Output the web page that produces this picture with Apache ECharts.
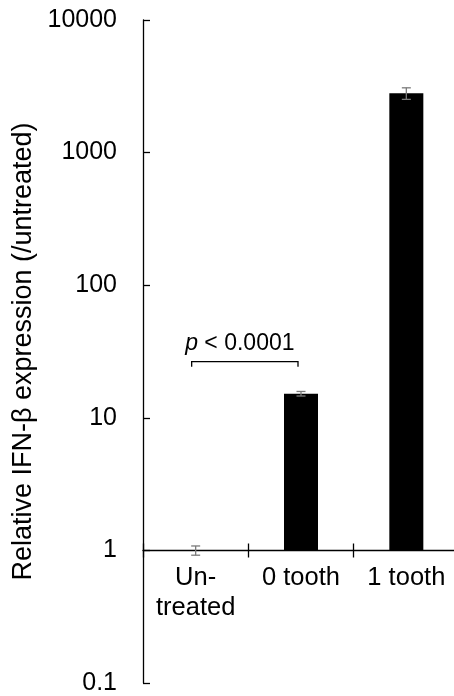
<!DOCTYPE html>
<html>
<head>
<meta charset="utf-8">
<script src="https://cdn.jsdelivr.net/npm/echarts@6/dist/echarts.min.js"></script>
<style>
  html, body { margin: 0; padding: 0; background: #fff; }
  #chart { width: 454px; height: 696px; }
</style>
</head>
<body>
<div id="chart"></div>
<script>
// Relative IFN-beta expression per treatment group (fold over untreated)
const categories = ['Un-\ntreated', '0 tooth', '1 tooth'];
const meanValues = [1, 15.2, 2800];
const errLow = [0.92, 14.6, 2520];
const errHigh = [1.08, 15.8, 3080];
const yTicks = [0.1, 1, 10, 100, 1000, 10000];
// Significance bracket between untreated and 0 tooth
const sigPair = [0, 1];
const sigLevel = 26.5;
const sigText = 'p < 0.0001';

const FONT = 'Liberation Sans, Arial, sans-serif';
const GRID_LEFT = 143;
const GRID_WIDTH = 316;      // last category runs past the right edge
const TOP = 20;
const BOTTOM_FULL = 13;      // grid down to 0.1
const BOTTOM_BASE = 145.5;   // grid down to 1 (baseline)

const chart = echarts.init(document.getElementById('chart'), null, { renderer: 'canvas' });

const gridBox = (top, bottom) => ({
  left: GRID_LEFT, width: GRID_WIDTH, top, bottom,
  containLabel: false, outerBoundsMode: 'none'
});

const hiddenCat = (gridIndex, extra) => Object.assign({
  type: 'category', gridIndex, data: categories,
  axisLine: { show: false }, axisTick: { show: false }, axisLabel: { show: false },
  splitLine: { show: false }
}, extra || {});

const hiddenLog = (gridIndex, min, max) => ({
  type: 'log', logBase: 10, gridIndex, min, max, show: false,
  splitLine: { show: false }
});

const option = {
  animation: false,
  backgroundColor: '#fff',
  grid: [
    gridBox(TOP, BOTTOM_FULL),
    gridBox(TOP, BOTTOM_BASE),
    gridBox(696 - BOTTOM_BASE, BOTTOM_FULL)
  ],
  xAxis: [
    hiddenCat(0),
    {
      type: 'category', gridIndex: 1, data: categories, position: 'bottom',
      axisLine: { show: true, lineStyle: { color: '#000', width: 1.3 } },
      axisTick: { show: true, length: 7, lineStyle: { color: '#000', width: 1.3 } },
      axisLabel: {
        show: true, margin: 12, color: '#000', fontFamily: FONT, fontSize: 25.5,
        lineHeight: 30, verticalAlign: 'top', interval: 0
      },
      splitLine: { show: false }
    },
    hiddenCat(2, {
      position: 'top',
      axisTick: { show: true, length: 7, lineStyle: { color: '#000', width: 1.3 } }
    })
  ],
  yAxis: [
    {
      type: 'log', logBase: 10, gridIndex: 0, min: 0.1, max: 10000,
      axisLine: { show: true, lineStyle: { color: '#000', width: 1.3 } },
      axisTick: { show: true, inside: true, length: 7, lineStyle: { color: '#000', width: 1.3 } },
      axisLabel: {
        color: '#000', fontFamily: FONT, fontSize: 25, margin: 26,
        formatter: v => {
          const r = +(+v).toPrecision(6);
          return yTicks.indexOf(r) >= 0 ? String(r) : '';
        }
      },
      splitLine: { show: false },
      name: 'Relative IFN-β expression (/untreated)',
      nameLocation: 'middle', nameGap: 88, nameRotate: 90,
      nameTextStyle: { color: '#000', fontFamily: FONT, fontSize: 27 }
    },
    hiddenLog(1, 1, 10000),
    hiddenLog(2, 0.1, 1)
  ],
  series: [
    {
      type: 'bar', xAxisIndex: 1, yAxisIndex: 1,
      data: meanValues, barWidth: 34,
      itemStyle: { color: '#000' }
    },
    {
      // error bars (gray whiskers with caps)
      type: 'custom', xAxisIndex: 0, yAxisIndex: 0, z: 5,
      data: categories.map((c, i) => [i, errLow[i], errHigh[i]]),
      renderItem: (params, api) => {
        const lo = api.coord([api.value(0), api.value(1)]);
        const hi = api.coord([api.value(0), api.value(2)]);
        const x = lo[0], hw = 4.5;
        const style = { stroke: '#7a7a7a', lineWidth: 1.3, fill: null };
        return {
          type: 'group',
          children: [
            { type: 'line', shape: { x1: x, y1: lo[1], x2: x, y2: hi[1] }, style },
            { type: 'line', shape: { x1: x - hw, y1: lo[1], x2: x + hw, y2: lo[1] }, style },
            { type: 'line', shape: { x1: x - hw, y1: hi[1], x2: x + hw, y2: hi[1] }, style }
          ]
        };
      }
    },
    {
      // significance bracket and p-value
      type: 'custom', xAxisIndex: 0, yAxisIndex: 0, z: 5,
      data: [[sigPair[0], sigPair[1], sigLevel]],
      renderItem: (params, api) => {
        const a = api.coord([api.value(0), api.value(2)]);
        const b = api.coord([api.value(1), api.value(2)]);
        const x1 = a[0] - 4, x2 = b[0] - 3, y = a[1], leg = 5;
        return {
          type: 'group',
          children: [
            {
              type: 'polyline',
              shape: { points: [[x1, y + leg], [x1, y], [x2, y], [x2, y + leg]] },
              style: { stroke: '#000', lineWidth: 1.3, fill: null }
            },
            {
              type: 'text',
              x: (x1 + x2) / 2 - 5, y: y - 7,
              style: {
                text: '{i|p}' + sigText.slice(1),
                fill: '#000', font: '23px ' + FONT,
                align: 'center', verticalAlign: 'bottom',
                rich: { i: { fontStyle: 'italic', fontFamily: FONT, fontSize: 23, fill: '#000' } }
              }
            }
          ]
        };
      }
    }
  ]
};

chart.setOption(option);
</script>
</body>
</html>
